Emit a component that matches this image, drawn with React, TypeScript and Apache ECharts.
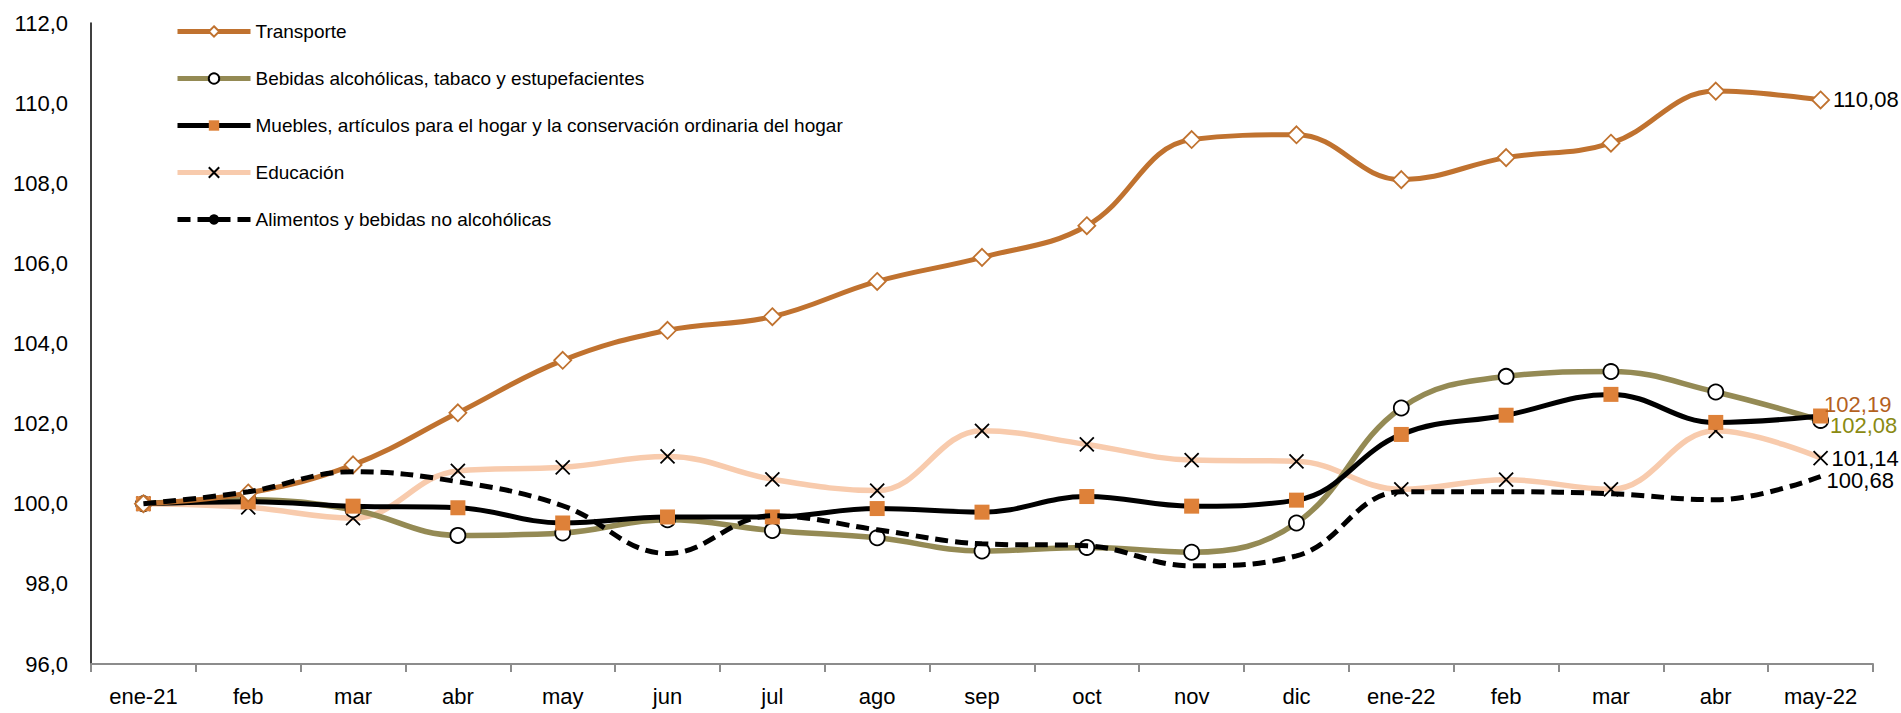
import React, { useEffect, useRef } from "react";
import * as echarts from "echarts";

const categories = ["ene-21", "feb", "mar", "abr", "may", "jun", "jul", "ago", "sep", "oct", "nov", "dic", "ene-22", "feb", "mar", "abr", "may-22"];

const transporte = [100.0, 100.27, 100.97, 102.27, 103.58, 104.33, 104.67, 105.55, 106.15, 106.94, 109.09, 109.21, 108.09, 108.64, 109.0, 110.3, 110.08];
const bebidas = [100.0, 100.1, 99.85, 99.21, 99.27, 99.6, 99.33, 99.15, 98.82, 98.91, 98.79, 99.52, 102.39, 103.18, 103.3, 102.79, 102.08];
const muebles = [100.0, 100.05, 99.94, 99.9, 99.52, 99.67, 99.67, 99.88, 99.79, 100.18, 99.94, 100.09, 101.73, 102.21, 102.73, 102.03, 102.19];
const educacion = [100.0, 99.91, 99.64, 100.82, 100.91, 101.18, 100.61, 100.33, 101.82, 101.48, 101.09, 101.06, 100.36, 100.6, 100.36, 101.82, 101.14];
const alimentos = [100.0, 100.3, 100.8, 100.55, 99.95, 98.76, 99.7, 99.35, 99.0, 98.95, 98.45, 98.7, 100.3, 100.3, 100.25, 100.1, 100.68];

const seriesNames = [
  "Transporte",
  "Bebidas alcohólicas, tabaco y estupefacientes",
  "Muebles, artículos para el hogar y la conservación ordinaria del hogar",
  "Educación",
  "Alimentos y bebidas no alcohólicas",
];

const FONT = "'Liberation Sans', Arial, sans-serif";
const fmt = (v: number, d: number) => v.toFixed(d).replace(".", ",");

function withEndLabel(values: number[], label: any) {
  return values.map((v, i) =>
    i === values.length - 1 ? { value: v, label: { show: true, ...label } } : v
  );
}

export default function App() {
  const ref = useRef<HTMLDivElement>(null);
  useEffect(() => {
    if (!ref.current) return;
    const chart = echarts.init(ref.current, undefined, { renderer: "svg" });
    const endLabelBase = {
      fontFamily: FONT,
      fontSize: 22,
      formatter: (p: any) => fmt(p.value, 2),
    };
    chart.setOption({
      animation: false,
      backgroundColor: "#ffffff",
      grid: { left: 91, right: 28, top: 23, bottom: 49 },
      legend: {
        orient: "vertical",
        left: 170,
        top: 17,
        itemWidth: 73,
        itemHeight: 13,
        itemGap: 28,
        data: seriesNames,
        lineStyle: { width: 5 },
        textStyle: { fontFamily: FONT, fontSize: 19, color: "#000" },
      },
      xAxis: {
        type: "category",
        data: categories,
        boundaryGap: true,
        axisLine: { lineStyle: { color: "#8c8c8c", width: 2 } },
        axisTick: { show: true, length: 8, lineStyle: { color: "#8c8c8c", width: 2 } },
        axisLabel: { fontFamily: FONT, fontSize: 22, color: "#000", margin: 21, interval: 0 },
        splitLine: { show: false },
      },
      yAxis: {
        type: "value",
        min: 96,
        max: 112,
        interval: 2,
        axisLine: { show: true, lineStyle: { color: "#000", width: 1.5 } },
        axisTick: { show: false },
        splitLine: { show: false },
        axisLabel: {
          fontFamily: FONT,
          fontSize: 22,
          color: "#000",
          margin: 23,
          formatter: (v: number) => fmt(v, 1),
        },
      },
      series: [
        {
          name: seriesNames[3],
          type: "line",
          smooth: 0.4,
          z: 2,
          data: withEndLabel(educacion, { ...endLabelBase, position: "right", distance: 3, color: "#000" }),
          symbol: "path://M0,0L10,10M10,0L0,10",
          symbolSize: 14,
          lineStyle: { color: "#F8CBAD", width: 5.5 },
          itemStyle: { color: "rgba(0,0,0,0)", borderColor: "#000", borderWidth: 1.8 },
        },
        {
          name: seriesNames[1],
          type: "line",
          smooth: 0.4,
          z: 3,
          data: withEndLabel(bebidas, { ...endLabelBase, position: "right", distance: 1, offset: [0, 5], color: "#8A8A12" }),
          symbol: "circle",
          symbolSize: 15,
          lineStyle: { color: "#948A54", width: 5.5 },
          itemStyle: { color: "#fff", borderColor: "#000", borderWidth: 1.8 },
        },
        {
          name: seriesNames[2],
          type: "line",
          smooth: 0.4,
          z: 4,
          data: withEndLabel(muebles, { ...endLabelBase, position: "right", distance: 0, offset: [-4, -12], color: "#B4611F" }),
          symbol: "rect",
          symbolSize: 15,
          lineStyle: { color: "#000", width: 5 },
          itemStyle: { color: "#DE8139", borderColor: "#DE8139", borderWidth: 0 },
        },
        {
          name: seriesNames[0],
          type: "line",
          smooth: 0.4,
          z: 5,
          data: withEndLabel(transporte, { ...endLabelBase, position: "right", distance: 3, color: "#000" }),
          symbol: "diamond",
          symbolSize: 17,
          lineStyle: { color: "#C0722F", width: 5 },
          itemStyle: { color: "#fff", borderColor: "#C0722F", borderWidth: 1.8 },
        },
        {
          name: seriesNames[4],
          type: "line",
          smooth: 0.4,
          z: 6,
          data: alimentos,
          symbol: "none",
          showSymbol: false,
          lineStyle: { color: "#000", width: 5, type: [13, 7] },
          itemStyle: { color: "#000" },
          endLabel: {
            show: true,
            fontFamily: FONT,
            fontSize: 22,
            color: "#000",
            distance: 6,
            offset: [0, 4],
            formatter: (p: any) => fmt(p.value, 2),
          },
        },
      ],
    });
    return () => chart.dispose();
  }, []);
  return (
    <div
      ref={ref}
      style={{ position: "fixed", left: 0, top: 0, width: 1901, height: 713, background: "#fff" }}
    />
  );
}
